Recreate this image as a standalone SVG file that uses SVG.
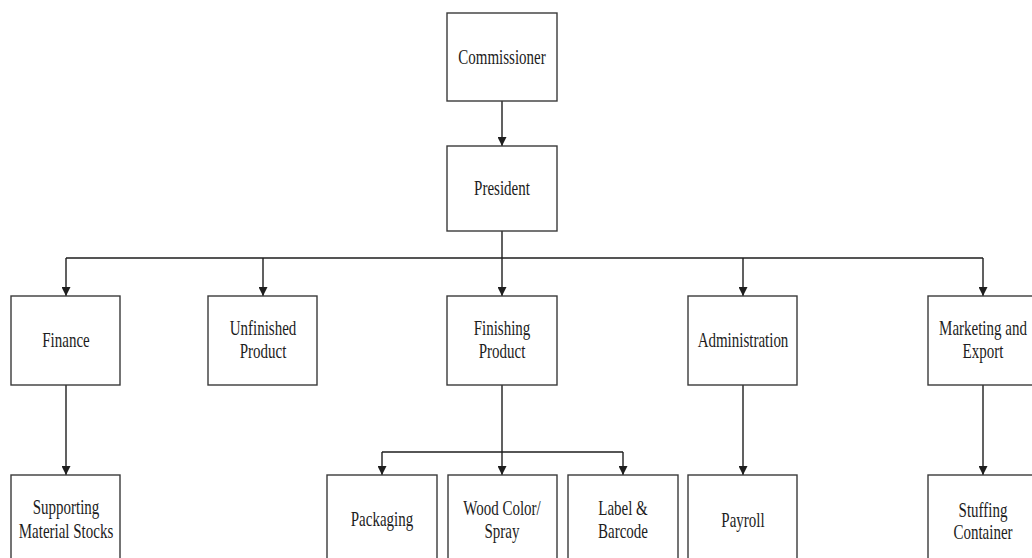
<svg xmlns="http://www.w3.org/2000/svg" width="1032" height="558" viewBox="0 0 1032 558">
  <defs>
    <marker id="arrow" viewBox="0 0 10 10" refX="10" refY="5" markerWidth="9" markerHeight="9" markerUnits="userSpaceOnUse" orient="auto">
      <path d="M0,0 L10,5 L0,10 z" fill="#1e1e1e"/>
    </marker>
    <style>
      .box { fill: #ffffff; stroke: #3a3a3a; stroke-width: 1.4; }
      .lbl { font-size: 20px; text-anchor: middle; fill: #1c1c1c; }
      .wire { fill: none; stroke: #1e1e1e; stroke-width: 1.4; }
      .arr { fill: none; stroke: #1e1e1e; stroke-width: 1.4; marker-end: url(#arrow); }
    </style>
  </defs>
  <rect width="1032" height="558" fill="#ffffff"/>

  <!-- connectors -->
  <g id="connectors">
    <path class="arr" d="M502,101 V146"/>
    <path class="wire" d="M502,231 V258 M66,258 H983"/>
    <path class="arr" d="M66,258 V296"/>
    <path class="arr" d="M263,258 V296"/>
    <path class="arr" d="M502,258 V296"/>
    <path class="arr" d="M743,258 V296"/>
    <path class="arr" d="M983,258 V296"/>
    <path class="arr" d="M66,385 V475"/>
    <path class="arr" d="M502,385 V475"/>
    <path class="wire" d="M382,452 H623"/>
    <path class="arr" d="M382,452 V475"/>
    <path class="arr" d="M623,452 V475"/>
    <path class="arr" d="M743,385 V475"/>
    <path class="arr" d="M983,385 V475"/>
  </g>

  <g font-family="'Liberation Serif', 'Times New Roman', serif">
  <!-- top of the chart -->
  <g id="commissioner">
    <rect class="box" x="447" y="13" width="110" height="88"/>
    <text class="lbl" transform="translate(502,64) scale(0.75,1)">Commissioner</text>
  </g>
  <g id="president">
    <rect class="box" x="447" y="146" width="110" height="85"/>
    <text class="lbl" transform="translate(502,195) scale(0.75,1)">President</text>
  </g>

  <!-- departments -->
  <g id="finance">
    <rect class="box" x="11" y="296" width="109" height="89"/>
    <text class="lbl" transform="translate(66,347) scale(0.75,1)">Finance</text>
  </g>
  <g id="unfinished-product">
    <rect class="box" x="208" y="296" width="109" height="89"/>
    <text class="lbl" transform="translate(263,335) scale(0.75,1)">Unfinished</text>
    <text class="lbl" transform="translate(263,358) scale(0.75,1)">Product</text>
  </g>
  <g id="finishing-product">
    <rect class="box" x="447" y="296" width="110" height="89"/>
    <text class="lbl" transform="translate(502,335) scale(0.75,1)">Finishing</text>
    <text class="lbl" transform="translate(502,358) scale(0.75,1)">Product</text>
  </g>
  <g id="administration">
    <rect class="box" x="688" y="296" width="109" height="89"/>
    <text class="lbl" transform="translate(743,347) scale(0.75,1)">Administration</text>
  </g>
  <g id="marketing-export">
    <rect class="box" x="928" y="296" width="110" height="89"/>
    <text class="lbl" transform="translate(983,335) scale(0.75,1)">Marketing and</text>
    <text class="lbl" transform="translate(983,358) scale(0.75,1)">Export</text>
  </g>

  <!-- sections -->
  <g id="supporting-material-stocks">
    <rect class="box" x="11" y="475" width="109" height="90"/>
    <text class="lbl" transform="translate(66,514) scale(0.75,1)">Supporting</text>
    <text class="lbl" transform="translate(66,538) scale(0.75,1)">Material Stocks</text>
  </g>
  <g id="packaging">
    <rect class="box" x="327" y="475" width="110" height="90"/>
    <text class="lbl" transform="translate(382,526) scale(0.75,1)">Packaging</text>
  </g>
  <g id="wood-color-spray">
    <rect class="box" x="448" y="475" width="109" height="90"/>
    <text class="lbl" transform="translate(502,515) scale(0.75,1)">Wood Color/</text>
    <text class="lbl" transform="translate(502,538) scale(0.75,1)">Spray</text>
  </g>
  <g id="label-barcode">
    <rect class="box" x="568" y="475" width="110" height="90"/>
    <text class="lbl" transform="translate(623,515) scale(0.75,1)">Label &amp;</text>
    <text class="lbl" transform="translate(623,538) scale(0.75,1)">Barcode</text>
  </g>
  <g id="payroll">
    <rect class="box" x="688" y="475" width="109" height="90"/>
    <text class="lbl" transform="translate(743,527) scale(0.75,1)">Payroll</text>
  </g>
  <g id="stuffing-container">
    <rect class="box" x="928" y="475" width="110" height="90"/>
    <text class="lbl" transform="translate(983,517) scale(0.75,1)">Stuffing</text>
    <text class="lbl" transform="translate(983,539) scale(0.75,1)">Container</text>
  </g>
  </g>
</svg>
